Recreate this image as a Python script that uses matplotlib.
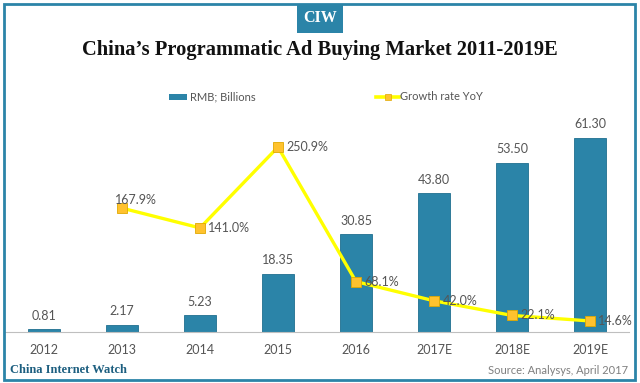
import matplotlib
matplotlib.use("Agg")
import matplotlib.pyplot as plt
from matplotlib.patches import Rectangle
from matplotlib.lines import Line2D

years = ["2012", "2013", "2014", "2015", "2016", "2017E", "2018E", "2019E"]
rmb_billions = [0.81, 2.17, 5.23, 18.35, 30.85, 43.80, 53.50, 61.30]
growth_years = ["2013", "2014", "2015", "2016", "2017E", "2018E", "2019E"]
growth_pct = [167.9, 141.0, 250.9, 68.1, 42.0, 22.1, 14.6]

TEAL = "#2b84a8"
GRAY = "#555555"
YELLOW = "#ffff00"
GOLD = "#ffc22e"

W, H = 640, 383
fig = plt.figure(figsize=(W / 100, H / 100), dpi=100)
plt.rcParams["font.family"] = ["Lato", "DejaVu Sans"]

ax_left, ax_right = 5 / W, 629 / W
ax_bottom = (H - 331.7) / H
ax_top = (H - 112) / H
ax = fig.add_axes([ax_left, ax_bottom, ax_right - ax_left, ax_top - ax_bottom])
ax2 = ax.twinx()

x = list(range(len(years)))
ax.bar(x, rmb_billions, width=0.4, color=TEAL, edgecolor="#1f6f90", linewidth=0.6, zorder=2)
for xi, v in zip(x, rmb_billions):
    ax.annotate(f"{v:.2f}", (xi, v), xytext=(0, 5.5), textcoords="offset points",
                ha="center", va="bottom", fontsize=9, color=GRAY)

ax.set_xlim(-0.5, len(years) - 0.5)
ax.set_ylim(0, 69.5)
ax.set_xticks(x)
ax.set_xticklabels(years, fontsize=9, color=GRAY)
ax.tick_params(axis="x", length=0, pad=9)
ax.set_yticks([])
for s in ["top", "left", "right"]:
    ax.spines[s].set_visible(False)
ax.spines["bottom"].set_color("#bfbfbf")
ax.spines["bottom"].set_linewidth(0.8)

gx = [years.index(y) for y in growth_years]
ax2.plot(gx, growth_pct, color=YELLOW, linewidth=2.4, zorder=3)
ax2.plot(gx, growth_pct, linestyle="none", marker="s", markersize=7,
         markerfacecolor=GOLD, markeredgecolor="#e0a800", markeredgewidth=0.6, zorder=4)
for i, (xi, v) in enumerate(zip(gx, growth_pct)):
    if i == 0:
        ax2.annotate(f"{v:.1f}%", (xi, v), xytext=(10, 6), textcoords="offset points",
                     ha="center", va="center", fontsize=9, color=GRAY, zorder=5)
    else:
        ax2.annotate(f"{v:.1f}%", (xi, v), xytext=(6, 0), textcoords="offset points",
                     ha="left", va="center", fontsize=9, color=GRAY, zorder=5)
ax2.set_ylim(0, 298.5)
ax2.set_yticks([])
for s in ["top", "left", "right", "bottom"]:
    ax2.spines[s].set_visible(False)

# Frame border
fig.patches.append(Rectangle((4 / W, 3 / H), 631 / W, 376 / H, transform=fig.transFigure,
                             fill=False, edgecolor=TEAL, linewidth=2, zorder=10))
# CIW badge
fig.patches.append(Rectangle((297 / W, (H - 33) / H), 46 / W, 29 / H, transform=fig.transFigure,
                             facecolor=TEAL, edgecolor="none", zorder=10))
fig.text(320 / W, (H - 18.5) / H, "CIW", ha="center", va="center", color="white",
         fontsize=11.5, fontweight="bold", family=["Liberation Serif", "DejaVu Serif"], zorder=11)

fig.text(0.5, (H - 50) / H, "China\u2019s Programmatic Ad Buying Market 2011-2019E",
         ha="center", va="center", fontsize=14.8, fontweight="bold",
         family=["Liberation Serif", "DejaVu Serif"], color="#111111")

# Legend
fig.patches.append(Rectangle((169 / W, (H - 100) / H), 18 / W, 6 / H, transform=fig.transFigure,
                             facecolor=TEAL, edgecolor="none"))
fig.text(190 / W, (H - 97) / H, "RMB; Billions", ha="left", va="center", fontsize=8, color=GRAY)
fig.lines.append(Line2D([376 / W, 399 / W], [(H - 97) / H] * 2, transform=fig.transFigure,
                        color=YELLOW, linewidth=2.6))
fig.lines.append(Line2D([387.5 / W], [(H - 97) / H], transform=fig.transFigure, marker="s",
                        markersize=5, markerfacecolor=GOLD, markeredgecolor="#e0a800",
                        markeredgewidth=0.5, linestyle="none"))
fig.text(400 / W, (H - 97) / H, "Growth rate YoY", ha="left", va="center", fontsize=8, color=GRAY)

# Footer
fig.text(10 / W, (H - 370) / H, "China Internet Watch", ha="left", va="center", fontsize=9,
         fontweight="bold", family=["Liberation Serif", "DejaVu Serif"], color="#1d5f80")
fig.text(628 / W, (H - 370) / H, "Source: Analysys, April 2017", ha="right", va="center",
         fontsize=8, color="#7f7f7f")

fig.savefig("out.png", dpi=100)
